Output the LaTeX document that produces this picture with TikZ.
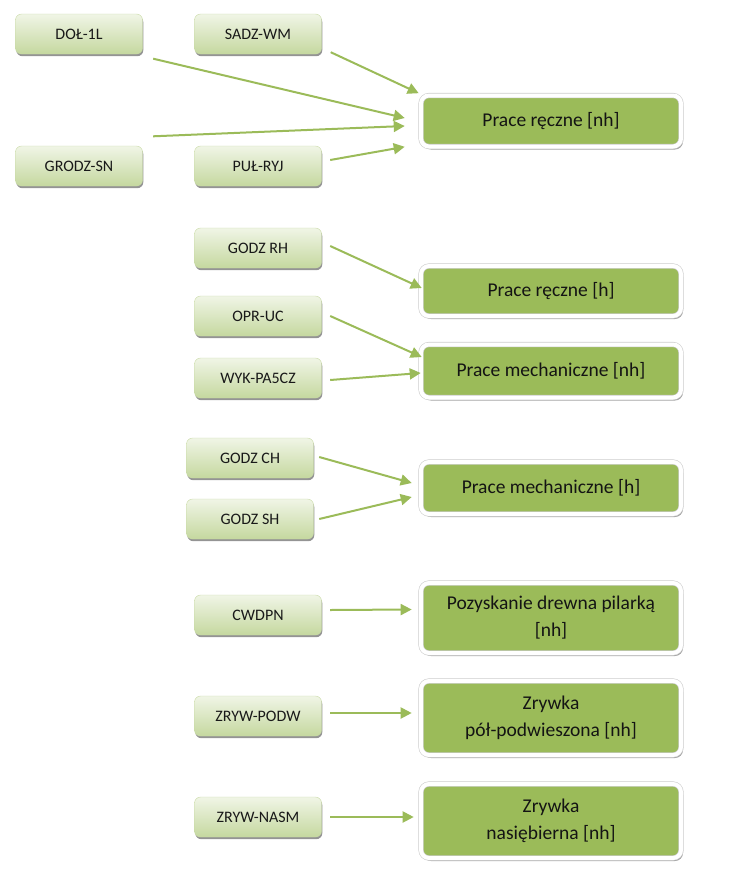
\documentclass[tikz,border=0pt]{standalone}
\usepackage{fontspec}
\setmainfont{Carlito}
\usepackage{tikz}
\usetikzlibrary{arrows.meta,shadows}
\definecolor{leafgreen}{HTML}{9BBB59}
\definecolor{paletop}{HTML}{F0F5E6}
\definecolor{palebot}{HTML}{C5D89F}

\begin{document}
\begin{tikzpicture}[x=1pt,y=-1pt,>={Triangle[length=11pt,width=11pt]},
  src/.style={rectangle,rounded corners=6pt,minimum width=127pt,minimum height=40pt,
    top color=paletop,bottom color=palebot,draw=leafgreen!55,line width=0.4pt,
    drop shadow={shadow xshift=0.8pt,shadow yshift=-2.2pt,fill=black!60,opacity=0.7},
    text=black!90,font=\fontsize{16}{19}\selectfont},
  tgt/.style={rectangle,rounded corners=8pt,minimum width=260pt,minimum height=51pt,
    fill=leafgreen,draw=black!20,double=white,double distance=4pt,line width=0.6pt,
    drop shadow={shadow xshift=2pt,shadow yshift=-3pt,fill=black!60,opacity=0.6},
    align=center,text=black!92,font=\fontsize{19.5}{27}\selectfont},
  conn/.style={->,leafgreen,line width=2pt}]
  \useasboundingbox (0,0) rectangle (738,873);
  % source codes
  \node[src] (dol)      at (79,34)  {DOŁ-1L};
  \node[src] (sadz)     at (258,34) {SADZ-WM};
  \node[src] (grodz)    at (79,166) {GRODZ-SN};
  \node[src] (pul)      at (258,166){PUŁ-RYJ};
  \node[src] (godzrh)   at (258,248){GODZ RH};
  \node[src] (opruc)    at (258,316){OPR-UC};
  \node[src] (wyk)      at (258,378){WYK-PA5CZ};
  \node[src] (godzch)   at (250,458){GODZ CH};
  \node[src] (godzsh)   at (250,519){GODZ SH};
  \node[src] (cwdpn)    at (258,615){CWDPN};
  \node[src] (zrywpodw) at (258,716){ZRYW-PODW};
  \node[src] (zrywnasm) at (258,817){ZRYW-NASM};
  % target categories
  \node[tgt] (recznenh) at (551,121) {Prace ręczne [nh]};
  \node[tgt,minimum height=50pt] (recznh) at (551,291) {Prace ręczne [h]};
  \node[tgt,minimum height=53pt] (mechnh) at (551,371) {Prace mechaniczne [nh]};
  \node[tgt,minimum height=52pt] (mechh)  at (551,488) {Prace mechaniczne [h]};
  \node[tgt,minimum height=70pt] (pozysk) at (551,618) {Pozyskanie drewna pilarką\\{[nh]}};
  \node[tgt,minimum height=74pt] (zrywpol) at (551,718) {Zrywka\\pół-podwieszona [nh]};
  \node[tgt,minimum height=74pt] (zrywnas) at (551,821) {Zrywka\\nasiębierna [nh]};
  % connectors
  \draw[conn] ([shift={(9,-2)}]sadz.south east) -- ([shift={(-2,-2)}]recznenh.north west);
  \draw[conn] ([shift={(10.5,4.5)}]dol.south east) -- ([shift={(-16,-3)}]recznenh.west);
  \draw[conn] ([shift={(10.5,-9.5)}]grodz.north east) -- ([shift={(-16,5)}]recznenh.west);
  \draw[conn] ([shift={(8.5,-6)}]pul.east) -- ([shift={(-16,0)}]recznenh.south west);
  \draw[conn] ([shift={(8.5,-2)}]godzrh.east) -- ([shift={(1,-3)}]recznh.west);
  \draw[conn] ([shift={(8.5,0)}]opruc.east) -- ([shift={(1,-14)}]mechnh.west);
  \draw[conn] ([shift={(8.5,2)}]wyk.east) -- ([shift={(0,2)}]mechnh.west);
  \draw[conn] ([shift={(5.5,-1)}]godzch.east) -- ([shift={(-9,-5)}]mechh.west);
  \draw[conn] ([shift={(5.5,0)}]godzsh.east) -- ([shift={(-9,9)}]mechh.west);
  \draw[conn] ([shift={(8.5,-5)}]cwdpn.east) -- ([shift={(-9,-8.5)}]pozysk.west);
  \draw[conn] ([shift={(8.5,-3)}]zrywpodw.east) -- ([shift={(-9,-5)}]zrywpol.west);
  \draw[conn] ([shift={(8.5,0)}]zrywnasm.east) -- ([shift={(-7,-4)}]zrywnas.west);
\end{tikzpicture}
\end{document}
